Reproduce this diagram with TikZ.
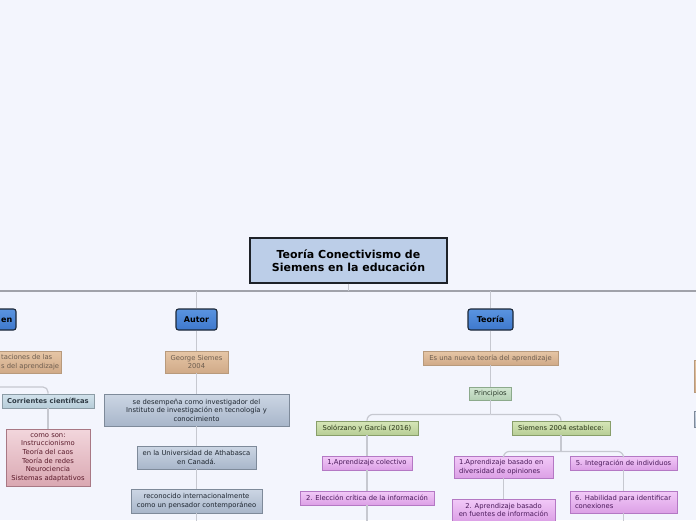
\documentclass[tikz,border=0pt]{standalone}
\usepackage{fontspec}
\setmainfont{DejaVu Sans}
\definecolor{bgc}{HTML}{F3F5FD}
\definecolor{rootF}{HTML}{BCCEE8}
\definecolor{rootD}{HTML}{1E2228}
\definecolor{mainT}{HTML}{5A94E0}
\definecolor{mainB}{HTML}{3E78CC}
\definecolor{mainD}{HTML}{1C2838}
\definecolor{tanT}{HTML}{E6C6A6}
\definecolor{tanB}{HTML}{D0AA88}
\definecolor{tanD}{HTML}{B89A7C}
\definecolor{tanTx}{HTML}{6E5E50}
\definecolor{gbT}{HTML}{CCD6E4}
\definecolor{gbB}{HTML}{A8B6CA}
\definecolor{gbD}{HTML}{7E8A9A}
\definecolor{gbTx}{HTML}{1E2630}
\definecolor{crT}{HTML}{D2E2EC}
\definecolor{crB}{HTML}{B6CCD8}
\definecolor{crD}{HTML}{8C9CA6}
\definecolor{crTx}{HTML}{2E3A44}
\definecolor{pkT}{HTML}{F2D6DC}
\definecolor{pkB}{HTML}{DAA8B2}
\definecolor{pkD}{HTML}{A87884}
\definecolor{pkTx}{HTML}{5A1A2A}
\definecolor{prT}{HTML}{D2E6D2}
\definecolor{prB}{HTML}{B4D0B4}
\definecolor{prD}{HTML}{8CAA8C}
\definecolor{prTx}{HTML}{2A3A2A}
\definecolor{grT}{HTML}{D6E6B8}
\definecolor{grB}{HTML}{B8CE96}
\definecolor{grD}{HTML}{889E6A}
\definecolor{grTx}{HTML}{2A3618}
\definecolor{viT}{HTML}{F2CAF8}
\definecolor{viB}{HTML}{DCA0E6}
\definecolor{viD}{HTML}{B478C4}
\definecolor{viTx}{HTML}{4A1A5A}
\definecolor{connC}{HTML}{C6C8D0}
\definecolor{mainC}{HTML}{A0A2AA}
\begin{document}
\begin{tikzpicture}[x=1pt,y=-1pt,
  box/.style={draw, rectangle, inner sep=0pt, align=center, line width=0.8pt,
    font=\fontsize{6.8}{8.6}\selectfont},
  rootb/.style={draw=rootD, fill=rootF, line width=1.4pt, inner sep=0pt, align=center,
    font=\bfseries\fontsize{11}{12.7}\selectfont, text=black},
  mainb/.style={draw=mainD, line width=1.1pt, rounded corners=2.5pt, top color=mainT,
    bottom color=mainB, inner sep=0pt, font=\bfseries\fontsize{8}{9}\selectfont, text=black},
  tanb/.style={box, draw=tanD, top color=tanT, bottom color=tanB, text=tanTx},
  gbox/.style={box, draw=gbD, top color=gbT, bottom color=gbB, text=gbTx},
  corrb/.style={box, draw=crD, top color=crT, bottom color=crB, text=crTx,
    font=\bfseries\fontsize{6.8}{8.6}\selectfont},
  pinkb/.style={box, draw=pkD, top color=pkT, bottom color=pkB, text=pkTx},
  princb/.style={box, draw=prD, top color=prT, bottom color=prB, text=prTx},
  greenb/.style={box, draw=grD, top color=grT, bottom color=grB, text=grTx},
  violb/.style={box, draw=viD, top color=viT, bottom color=viB, text=viTx},
  conn/.style={draw=connC, line width=1.2pt},
  mainline/.style={draw=mainC, line width=1.1pt},
  txt/.style={inner sep=0pt, font=\fontsize{6.8}{8.6}\selectfont}
]
\fill[bgc] (0,0) rectangle (696,520);
\useasboundingbox (0,0) rectangle (696,520);

% main horizontal line
\coordinate (hl) at (-10,291);
\coordinate (hr) at (706,291);
\draw[mainline] (hl) -- (hr);

% root
\node[rootb, minimum width=197pt, minimum height=45pt] (root) at (348.5,260.5)
  {Teoría Conectivismo de\\Siemens en la educación};
\draw[conn] (root.south) -- (root.south |- hl);

% left column (cut off)
\node[mainb, minimum width=60pt, minimum height=21pt] (lmain) at (-14,319.5) {};
\node[inner sep=0pt, anchor=west, font=\bfseries\fontsize{8}{9}\selectfont] (lmaintxt) at (1,320) {en};
\node[tanb, minimum width=80pt, minimum height=22pt] (ltan) at (21,362) {};
\node[txt, anchor=west, align=left, text=tanTx] (ltantxt) at (1,362) {taciones de las\\s del aprendizaje};
\node[corrb, minimum width=92pt, minimum height=14pt] (corr) at (48,401) {Corrientes científicas};
\node[pinkb, minimum width=84pt, minimum height=57pt] (pink) at (48,457.5)
  {como son:\\Instruccionismo\\Teoría del caos\\Teoría de redes\\Neurociencia\\Sistemas adaptativos};
\coordinate (lj) at (-10,387);
\draw[conn, rounded corners=5pt] (lj) -| (corr.north);
\draw[conn] (corr) -- (pink);

% Autor column
\node[mainb, minimum width=41pt, minimum height=21pt] (autor) at (196.5,319.5) {Autor};
\node[tanb, minimum width=63pt, minimum height=22pt] (george) at (196.5,362) {George Siemes\\2004};
\node[gbox, minimum width=185pt, minimum height=32pt] (sedes) at (196.5,410)
  {se desempeña como investigador del\\Instituto de investigación en tecnología y\\conocimiento};
\node[gbox, minimum width=119pt, minimum height=23pt] (univ) at (196.5,457.5)
  {en la Universidad de Athabasca\\en Canadá.};
\node[gbox, minimum width=131pt, minimum height=24pt] (recon) at (196.5,501)
  {reconocido internacionalmente\\como un pensador contemporáneo};
\coordinate (abot) at (196.5,525);
\draw[conn] (autor.north |- hl) -- (autor.north);
\draw[conn] (autor) -- (george);
\draw[conn] (george) -- (sedes);
\draw[conn] (sedes) -- (univ);
\draw[conn] (univ) -- (recon);
\draw[conn] (recon) -- (abot);

% Teoria column
\node[mainb, minimum width=45pt, minimum height=21pt] (teoria) at (490.5,319.5) {Teoría};
\node[tanb, minimum width=135pt, minimum height=14pt] (esuna) at (490.5,358) {Es una nueva teoría del aprendizaje};
\node[princb, minimum width=42pt, minimum height=13pt] (princ) at (490.5,393.5) {Principios};
\draw[conn] (teoria.north |- hl) -- (teoria.north);
\draw[conn] (teoria) -- (esuna);
\draw[conn] (esuna) -- (princ);

\node[greenb, minimum width=102pt, minimum height=14pt] (solo) at (367,428) {Solórzano y García (2016)};
\node[greenb, minimum width=98pt, minimum height=14pt] (siem) at (561,428) {Siemens 2004 establece:};
\draw[conn] (princ.south) -- ++(0,14) coordinate (pj);
\draw[conn, rounded corners=6pt] (pj) -| (solo.north);
\draw[conn, rounded corners=6pt] (pj) -| (siem.north);

\node[violb, minimum width=90pt, minimum height=14pt] (c1) at (367,463) {1,Aprendizaje colectivo};
\node[violb, minimum width=134pt, minimum height=14pt] (c2) at (367,498) {2. Elección crítica de la información};
\coordinate (sbot) at (367,525);
\draw[conn] (solo) -- (c1);
\draw[conn] (c1) -- (c2);
\draw[conn] (c2) -- (sbot);

\node[violb, inner xsep=5pt, text width=89pt, align=left, minimum height=22pt] (s1) at (503.5,467)
  {1.Aprendizaje basado en\\diversidad de opiniones};
\node[violb, minimum width=107pt, minimum height=14pt] (s5) at (623.5,463) {5. Integración de individuos};
\node[violb, minimum width=103pt, minimum height=22pt] (s2) at (503.5,510)
  {2. Aprendizaje basado\\en fuentes de información};
\node[violb, inner xsep=5pt, text width=97pt, align=left, minimum height=22pt] (s6) at (623.5,502)
  {6. Habilidad para identificar\\conexiones};
\coordinate (s6bot) at (623.5,525);
\draw[conn] (siem.south) -- ++(0,16) coordinate (sj);
\draw[conn, rounded corners=6pt] (sj) -| (s1.north);
\draw[conn, rounded corners=6pt] (sj) -| (s5.north);
\draw[conn] (s1) -- (s2);
\draw[conn] (s5) -- (s6);
\draw[conn] (s6) -- (s6bot);

% right edge (cut off)
\node[tanb, minimum width=40pt, minimum height=32pt] (rtan) at (714.5,376) {};
\node[gbox, minimum width=40pt, minimum height=16pt] (rgray) at (714.5,419.5) {};
\end{tikzpicture}
\end{document}
